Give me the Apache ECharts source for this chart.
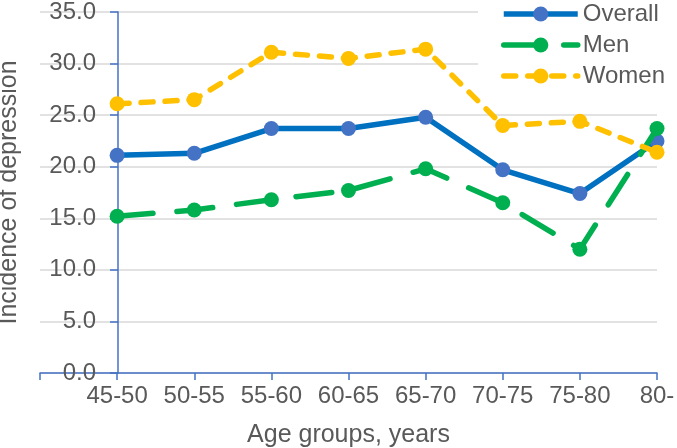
<!DOCTYPE html>
<html>
<head>
<meta charset="utf-8">
<script src="https://cdn.jsdelivr.net/npm/echarts@6/dist/echarts.min.js"></script>
<style>html,body{margin:0;padding:0;background:#fff}#c{width:677px;height:448px}</style>
</head>
<body>
<div id="c"></div>
<script>
var categories = ['45-50','50-55','55-60','60-65','65-70','70-75','75-80','80-'];
var overall = [21.1, 21.3, 23.7, 23.7, 24.8, 19.7, 17.4, 22.5];
var men     = [15.2, 15.8, 16.8, 17.7, 19.8, 16.5, 12.0, 23.7];
var women   = [26.1, 26.5, 31.1, 30.5, 31.4, 24.0, 24.4, 21.4];
var yTicks = [0, 5, 10, 15, 20, 25, 30, 35];

// leading empty slot: the plot area starts one category left of the first group
var cats = [''].concat(categories);
function pad(a){ return [null].concat(a); }

var font = 'Liberation Sans, Arial, sans-serif';
var txt = '#595959';
var axisCol = '#4472C4';

var chart = echarts.init(document.getElementById('c'), null, {renderer:'canvas'});
chart.setOption({
  animation: false,
  backgroundColor: '#fff',
  textStyle: {fontFamily: font},
  grid: {left: 40, right: 20, top: 12, bottom: 75, containLabel: false, outerBoundsMode: 'none'},
  legend: {
    orient: 'vertical',
    left: 478, top: 0,
    padding: [2, 20, 8, 23],
    backgroundColor: '#fff',
    itemWidth: 74, itemHeight: 19, itemGap: 7,
    lineStyle: {width: 5.5},
    textStyle: {fontSize: 24, color: txt, fontFamily: font, lineHeight: 24},
    data: ['Overall', 'Men', 'Women']
  },
  xAxis: {
    type: 'category',
    data: cats,
    boundaryGap: false,
    name: 'Age groups, years',
    nameLocation: 'middle',
    nameGap: 50,
    nameTextStyle: {fontSize: 25, color: txt, fontFamily: font},
    axisLine: {lineStyle: {color: axisCol, width: 1.5}},
    axisTick: {show: true, length: 7, lineStyle: {color: axisCol, width: 1.5}},
    axisLabel: {fontSize: 24, color: txt, margin: 11, interval: 0, fontFamily: font},
    splitLine: {show: false}
  },
  yAxis: {
    type: 'value',
    min: 0, max: 35, interval: 5,
    offset: -78,
    name: 'Incidence of depression',
    nameLocation: 'middle',
    nameGap: 96,
    nameTextStyle: {fontSize: 25, color: txt, fontFamily: font},
    axisLine: {show: true, lineStyle: {color: axisCol, width: 1.5}},
    axisTick: {show: true, length: 8, lineStyle: {color: axisCol, width: 1.5}},
    axisLabel: {fontSize: 24, color: txt, margin: 22, fontFamily: font,
      formatter: function(v){ return yTicks.indexOf(v) >= 0 ? v.toFixed(1) : ''; }},
    splitLine: {show: true, lineStyle: {color: '#d9d9d9', width: 1.5}}
  },
  series: [
    {name: 'Overall', type: 'line', data: pad(overall), symbol: 'circle', symbolSize: 15,
     lineStyle: {color: '#0070C0', width: 5.5}, itemStyle: {color: '#4472C4'}, z: 2},
    {name: 'Men', type: 'line', data: pad(men), symbol: 'circle', symbolSize: 15,
     lineStyle: {color: '#00B050', width: 5.5, type: [36, 24], cap: 'round'}, itemStyle: {color: '#00B050'}, z: 3},
    {name: 'Women', type: 'line', data: pad(women), symbol: 'circle', symbolSize: 15,
     lineStyle: {color: '#FFC000', width: 5.5, type: [12, 12], cap: 'round'}, itemStyle: {color: '#FFC000'}, z: 4}
  ]
});
</script>
</body>
</html>
